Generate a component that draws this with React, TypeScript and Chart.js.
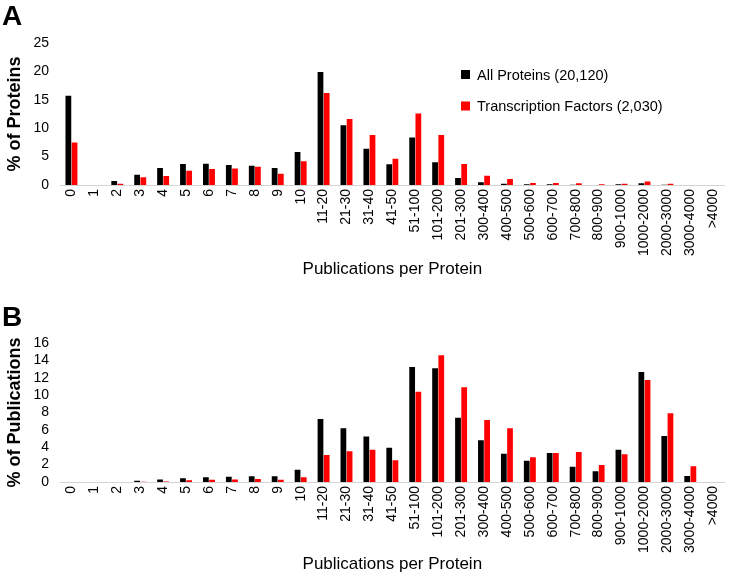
import React, { useEffect, useRef } from 'react';
import { Chart, registerables } from 'chart.js';

Chart.register(...registerables);

const FONT = "'Liberation Sans', Arial, Helvetica, sans-serif";

const categories = [
  '0', '1', '2', '3', '4', '5', '6', '7', '8', '9', '10',
  '11-20', '21-30', '31-40', '41-50', '51-100', '101-200', '201-300',
  '300-400', '400-500', '500-600', '600-700', '700-800', '800-900', '900-1000',
  '1000-2000', '2000-3000', '3000-4000', '>4000',
];

const seriesNames = ['All Proteins (20,120)', 'Transcription Factors (2,030)'];
const seriesColors = ['#000000', '#ff0000'];

// Panel A: % of Proteins
const proteinsAll = [15.7, 0, 0.7, 1.8, 3.0, 3.7, 3.75, 3.5, 3.4, 3.0, 5.8, 19.9, 10.5, 6.4, 3.65, 8.35, 4.0, 1.24, 0.47, 0.24, 0.12, 0.12, 0.05, 0.02, 0.12, 0.3, 0.03, 0, 0];
const proteinsTF = [7.5, 0, 0.2, 1.35, 1.6, 2.5, 2.8, 2.9, 3.2, 2.0, 4.2, 16.2, 11.6, 8.8, 4.6, 12.6, 8.8, 3.7, 1.65, 1.06, 0.35, 0.35, 0.3, 0.12, 0.24, 0.6, 0.24, 0, 0];

// Panel B: % of Publications
const pubsAll = [0, 0, 0, 0.15, 0.3, 0.42, 0.55, 0.6, 0.65, 0.65, 1.4, 7.25, 6.2, 5.25, 3.95, 13.25, 13.1, 7.4, 4.8, 3.25, 2.45, 3.35, 1.75, 1.25, 3.7, 12.65, 5.3, 0.7, 0];
const pubsTF = [0, 0, 0, 0.03, 0.05, 0.2, 0.27, 0.3, 0.35, 0.25, 0.55, 3.1, 3.55, 3.7, 2.5, 10.4, 14.6, 10.9, 7.15, 6.2, 2.85, 3.35, 3.45, 1.95, 3.2, 11.75, 7.9, 1.8, 0];

const xTitle = 'Publications per Protein';
const yTitleA = '% of Proteins';
const yTitleB = '% of Publications';
const yMaxA = 25;
const yStepA = 5;
const yMaxB = 16;
const yStepB = 2;

const overlayPlugin = {
  id: 'overlay',
  afterDraw(chart: any, _args: any, opts: any) {
    const ctx = chart.ctx;
    ctx.save();
    ctx.fillStyle = '#000';
    ctx.textAlign = 'left';
    ctx.textBaseline = 'alphabetic';
    ctx.font = `bold 28px ${FONT}`;
    ctx.fillText(opts.panel, opts.panelX, opts.panelY);
    if (opts.legend) {
      const { x, y, gap, box } = opts.legend;
      ctx.font = `14.5px ${FONT}`;
      ctx.textBaseline = 'middle';
      chart.data.datasets.forEach((ds: any, i: number) => {
        const cy = y + i * gap;
        ctx.fillStyle = ds.backgroundColor;
        ctx.fillRect(x, cy - box / 2, box, box);
        ctx.fillStyle = '#000';
        ctx.fillText(ds.label, x + 16, cy + 1);
      });
    }
    ctx.restore();
  },
};

function makeConfig(
  all: number[], tf: number[], yMax: number, yStep: number, yTitle: string,
  top: number, xHeight: number, titlePadBottom: number, panel: string, panelY: number, legend: any,
): any {
  return {
    type: 'bar',
    data: {
      labels: categories,
      datasets: [all, tf].map((d, i) => ({
        label: seriesNames[i],
        data: d,
        backgroundColor: seriesColors[i],
        borderWidth: 0,
        categoryPercentage: 0.54,
        barPercentage: 0.93,
      })),
    },
    options: {
      responsive: false,
      animation: false,
      devicePixelRatio: 1,
      layout: { padding: { top, left: 0, right: 0, bottom: 0 } },
      plugins: {
        legend: { display: false },
        tooltip: { enabled: false },
        overlay: { panel, panelX: 2, panelY, legend },
      },
      scales: {
        x: {
          grid: { display: false, drawTicks: false },
          border: { display: true, color: '#d4d4d4', width: 1 },
          ticks: {
            minRotation: 90, maxRotation: 90, autoSkip: false, padding: 4,
            color: '#000', font: { size: 14, family: FONT },
          },
          title: {
            display: true, text: xTitle, color: '#000',
            font: { size: 17, family: FONT }, padding: { top: 4, bottom: titlePadBottom },
          },
          afterFit: (s: any) => { s.height = xHeight; },
        },
        y: {
          min: 0, max: yMax,
          ticks: { stepSize: yStep, autoSkip: false, padding: 11, color: '#000', font: { size: 14, family: FONT } },
          grid: { display: false, drawTicks: false },
          border: { display: false },
          title: {
            display: true, text: yTitle, color: '#000',
            font: { size: 18, weight: 'bold', family: FONT }, padding: { top: 4, bottom: 0 },
          },
          afterFit: (s: any) => { s.width = 60; },
        },
      },
    },
    plugins: [overlayPlugin],
  };
}

export default function App() {
  const refA = useRef<HTMLCanvasElement>(null);
  const refB = useRef<HTMLCanvasElement>(null);

  useEffect(() => {
    Chart.defaults.font.family = FONT;
    const a = new Chart(refA.current as HTMLCanvasElement, makeConfig(
      proteinsAll, proteinsTF, yMaxA, yStepA, yTitleA, 43, 105, 10, 'A', 25,
      { x: 461, y: 74.5, gap: 31.5, box: 9 },
    ));
    const b = new Chart(refB.current as HTMLCanvasElement, makeConfig(
      pubsAll, pubsTF, yMaxB, yStepB, yTitleB, 53, 98, 5, 'B', 36, null,
    ));
    return () => { a.destroy(); b.destroy(); };
  }, []);

  return (
    <div style={{ position: 'absolute', left: 0, top: 0, width: 734, height: 580, background: '#fff' }}>
      <canvas ref={refA} width={734} height={290} style={{ position: 'absolute', left: 0, top: 0 }} />
      <canvas ref={refB} width={734} height={290} style={{ position: 'absolute', left: 0, top: 290 }} />
    </div>
  );
}
